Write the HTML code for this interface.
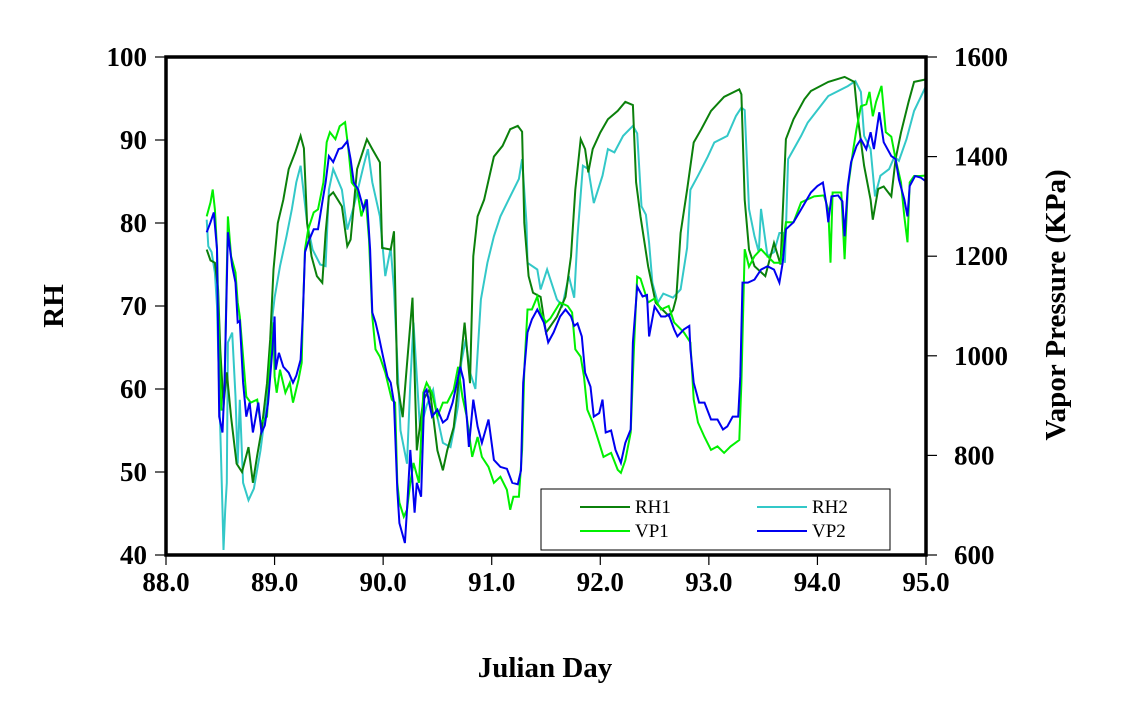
<!DOCTYPE html>
<html><head><meta charset="utf-8"><style>
html,body{margin:0;padding:0;background:#fff;}
svg{display:block;font-family:"Liberation Serif",serif;font-weight:bold;}
</style></head><body>
<svg id="chart" width="1127" height="718" viewBox="0 0 1127 718" xmlns="http://www.w3.org/2000/svg">
<rect width="1127" height="718" fill="#fff"/>
<g id="ticks"></g>
<g id="series"></g>
<rect x="166" y="57" width="760" height="498" fill="none" stroke="#000" stroke-width="3.5"/>
<text x="0" y="0" transform="translate(63,306) rotate(-90)" text-anchor="middle" font-size="29">RH</text>
<text x="0" y="0" transform="translate(1065,305) rotate(-90)" text-anchor="middle" font-size="29">Vapor Pressure (KPa)</text>
<text x="545" y="677" text-anchor="middle" font-size="29">Julian Day</text>
<g>
<rect x="541" y="489" width="349" height="61" fill="#fff" stroke="#000" stroke-width="1"/>
<line x1="580" y1="507" x2="630" y2="507" stroke="#0b800b" stroke-width="2"/>
<text x="635" y="513" font-size="19" font-weight="normal">RH1</text>
<line x1="757" y1="507" x2="807" y2="507" stroke="#33c8c8" stroke-width="2"/>
<text x="812" y="513" font-size="19" font-weight="normal">RH2</text>
<line x1="580" y1="531" x2="630" y2="531" stroke="#00f000" stroke-width="2"/>
<text x="635" y="537" font-size="19" font-weight="normal">VP1</text>
<line x1="757" y1="531" x2="807" y2="531" stroke="#0000f0" stroke-width="2"/>
<text x="812" y="537" font-size="19" font-weight="normal">VP2</text>
</g>
</svg>
<script>
const xTicks = [88,89,90,91,92,93,94,95];
const leftTicks = [40,50,60,70,80,90,100];
const rightTicks = [600,800,1000,1200,1400,1600];

const rh1Days = [88.375,88.41,88.45,88.48,88.5,88.53,88.56,88.6,88.65,88.7,88.76,88.8,88.84,88.88,88.93,88.96,88.99,89.03,89.08,89.13,89.19,89.24,89.27,89.3,89.34,89.39,89.44,89.47,89.5,89.54,89.62,89.67,89.7,89.76,89.85,89.9,89.97,89.99,90.07,90.1,90.13,90.18,90.22,90.27,90.31,90.37,90.43,90.5,90.55,90.59,90.65,90.71,90.75,90.8,90.83,90.87,90.93,91.02,91.1,91.17,91.24,91.28,91.3,91.34,91.38,91.45,91.5,91.6,91.68,91.73,91.77,91.82,91.86,91.89,91.93,92.0,92.07,92.16,92.23,92.3,92.33,92.37,92.44,92.51,92.63,92.67,92.7,92.74,92.8,92.86,92.93,93.02,93.14,93.28,93.3,93.33,93.37,93.42,93.52,93.6,93.66,93.71,93.78,93.88,93.94,94.1,94.25,94.34,94.37,94.43,94.49,94.51,94.56,94.61,94.68,94.72,94.77,94.84,94.89,95.0];
const rh1Values = [76.8,75.5,75.2,72,64.7,58,62,56.6,51,50,53,48.7,52,55,60.7,66,74.4,80,82.8,86.5,88.5,90.5,89,80,76,73.6,72.8,78.8,83.2,83.7,82,77.2,78,86.5,90.1,88.9,87.3,77,76.8,79,60.7,56.6,63,71,52.6,58.7,60,52.6,50.2,52.6,55.4,62.7,68,60.7,76,80.8,82.8,88,89.3,91.3,91.7,91,80,73.6,71.6,71.1,66.8,68.7,71.1,76,84,90.1,88.9,86.1,88.9,90.9,92.5,93.5,94.6,94.2,84.9,80.8,74.8,70.4,68.8,69.5,71,78.8,84,89.7,91.3,93.5,95.2,96.1,95.5,82.8,76.8,74.8,73.6,77.6,75,90.1,92.5,94.9,95.9,97,97.6,97,92.9,86.9,82.8,80.4,84.1,84.4,83.2,87.7,90.9,94.6,97,97.3];

const rh2Days = [88.375,88.39,88.42,88.45,88.47,88.5,88.52,88.53,88.545,88.56,88.57,88.61,88.64,88.66,88.68,88.71,88.76,88.81,88.87,88.93,88.98,89.0,89.05,89.11,89.16,89.2,89.24,89.3,89.35,89.42,89.47,89.5,89.54,89.62,89.67,89.73,89.82,89.86,89.9,89.97,90.02,90.07,90.1,90.16,90.22,90.25,90.28,90.34,90.4,90.46,90.5,90.55,90.62,90.65,90.69,90.72,90.76,90.8,90.85,90.9,90.96,91.02,91.08,91.17,91.25,91.28,91.32,91.33,91.42,91.45,91.51,91.6,91.65,91.71,91.76,91.79,91.84,91.89,91.94,92.02,92.07,92.13,92.21,92.3,92.34,92.38,92.42,92.45,92.48,92.53,92.58,92.67,92.74,92.8,92.83,92.9,92.99,93.05,93.17,93.25,93.3,93.33,93.37,93.42,93.46,93.48,93.54,93.6,93.65,93.68,93.7,93.73,93.85,93.91,94.1,94.28,94.35,94.4,94.43,94.49,94.53,94.58,94.66,94.71,94.75,94.82,94.89,95.0];
const rh2Values = [80.4,77.2,76.5,74,70,55,45.4,40.6,45.4,48.7,65.6,66.8,59.1,51,58.7,48.7,46.6,48,52.6,58.7,68.7,71,74.8,78.4,81.7,84.9,86.9,80,76.8,75,74.8,84,86.5,84,79.2,82,86.9,88.9,84.9,80.8,73.6,77,72,55,51,60.7,68,55,58,59.9,56.6,53.5,53,55,58,63.2,66,62,60,70.8,75.2,78.4,80.8,83.2,85.3,87.7,80,75.2,74.4,72,74.4,70.8,70,73.6,71,78.4,86.9,86.5,82.4,85.7,88.9,88.5,90.5,91.7,90.8,82,81,77.6,72.8,70.4,71.5,71,72,77,84,85.7,88,89.7,90.5,92.9,93.9,93.6,81.7,78.4,76.5,81.7,76,76.5,78.8,78.8,75.2,87.7,90.5,92.1,95.3,96.5,97.1,95.8,90.5,88.9,83.2,85.7,86.5,88,87.5,90.1,93.5,96.5,97.1];

const vp1Days = [88.375,88.41,88.43,88.45,88.47,88.49,88.51,88.53,88.54,88.57,88.6,88.64,88.66,88.68,88.71,88.74,88.78,88.84,88.87,88.93,88.96,88.99,89.0,89.02,89.05,89.1,89.14,89.17,89.22,89.25,89.26,89.28,89.31,89.36,89.4,89.45,89.48,89.51,89.56,89.6,89.65,89.68,89.71,89.76,89.8,89.84,89.87,89.9,89.93,89.97,90.02,90.08,90.11,90.13,90.15,90.19,90.22,90.25,90.28,90.33,90.37,90.4,90.45,90.5,90.55,90.59,90.65,90.69,90.73,90.77,90.82,90.87,90.91,90.97,91.02,91.08,91.14,91.17,91.2,91.25,91.28,91.3,91.33,91.37,91.42,91.45,91.5,91.54,91.63,91.7,91.74,91.77,91.82,91.85,91.88,91.93,91.99,92.03,92.1,92.16,92.19,92.23,92.28,92.31,92.34,92.37,92.44,92.5,92.56,92.63,92.68,92.77,92.83,92.86,92.9,92.96,93.02,93.08,93.14,93.2,93.28,93.3,93.33,93.37,93.42,93.48,93.54,93.6,93.66,93.71,93.78,93.85,93.97,94.06,94.1,94.12,94.14,94.22,94.25,94.28,94.33,94.36,94.4,94.45,94.48,94.51,94.54,94.59,94.63,94.68,94.72,94.77,94.8,94.83,94.85,94.89,94.95,95.0];
const vp1Values = [1280,1308,1334,1294,1214,1013,892,892,946,1280,1200,1167,1107,1079,998,918,906,912,866,878,998,1067,958,926,972,926,946,906,952,986,1079,1214,1254,1288,1294,1348,1429,1449,1435,1461,1469,1415,1348,1334,1280,1314,1234,1079,1013,998,966,912,906,745,705,677,691,745,785,745,926,946,926,878,906,906,932,978,918,878,797,837,797,777,745,757,731,691,717,717,811,972,1093,1093,1119,1087,1067,1075,1107,1100,1087,1013,998,958,892,866,825,797,805,771,765,790,846,1013,1159,1155,1107,1115,1093,1100,1067,1047,1027,912,866,837,811,818,805,818,831,946,1214,1179,1200,1214,1200,1187,1187,1268,1268,1308,1320,1322,1294,1187,1328,1328,1194,1335,1415,1455,1501,1505,1530,1481,1510,1542,1449,1440,1395,1348,1280,1228,1348,1361,1361,1362];

const vp2Days = [88.375,88.41,88.44,88.47,88.49,88.52,88.54,88.56,88.57,88.61,88.64,88.66,88.68,88.71,88.74,88.77,88.8,88.85,88.88,88.91,88.94,88.98,89.0,89.01,89.04,89.08,89.13,89.17,89.2,89.24,89.26,89.28,89.31,89.36,89.4,89.44,89.47,89.5,89.54,89.59,89.62,89.67,89.7,89.73,89.77,89.82,89.85,89.88,89.9,89.93,89.96,90.0,90.04,90.07,90.1,90.13,90.15,90.2,90.22,90.25,90.29,90.31,90.35,90.38,90.4,90.45,90.5,90.55,90.59,90.64,90.68,90.71,90.74,90.77,90.79,90.83,90.87,90.91,90.97,91.02,91.08,91.14,91.19,91.24,91.27,91.29,91.33,91.37,91.42,91.48,91.52,91.57,91.63,91.68,91.73,91.76,91.79,91.83,91.86,91.91,91.94,91.99,92.02,92.05,92.1,92.14,92.19,92.23,92.28,92.3,92.34,92.39,92.43,92.45,92.5,92.56,92.6,92.63,92.68,92.71,92.77,92.82,92.83,92.86,92.91,92.96,93.02,93.08,93.13,93.17,93.22,93.27,93.29,93.31,93.36,93.42,93.48,93.54,93.6,93.65,93.68,93.71,93.78,93.85,93.94,94.0,94.05,94.08,94.1,94.13,94.19,94.23,94.25,94.28,94.31,94.36,94.4,94.45,94.49,94.52,94.57,94.61,94.68,94.72,94.75,94.8,94.83,94.85,94.9,94.95,95.0];
const vp2Values = [1248,1268,1288,1214,878,846,946,1147,1248,1180,1147,1067,1070,946,878,906,846,906,846,860,906,1013,1079,972,1006,978,966,946,960,992,1079,1208,1228,1254,1254,1308,1348,1401,1389,1415,1417,1431,1395,1348,1334,1294,1314,1214,1087,1067,1039,998,958,946,906,731,664,624,691,811,685,745,717,926,932,878,892,866,873,906,946,978,952,878,817,912,858,825,872,791,777,773,745,742,770,946,1047,1073,1093,1067,1027,1047,1079,1093,1079,1060,1065,1039,966,938,878,885,912,846,850,811,785,825,852,1027,1139,1119,1122,1039,1099,1079,1079,1083,1053,1039,1053,1060,1013,946,906,906,872,872,852,858,878,878,958,1147,1147,1153,1173,1180,1173,1147,1187,1254,1268,1294,1328,1341,1348,1308,1268,1320,1322,1310,1240,1341,1389,1421,1435,1415,1449,1415,1489,1429,1401,1395,1354,1314,1280,1341,1361,1358,1350];

const X0 = 166, X1 = 926, Y0 = 555, Y1 = 57;
function xs(d){ return X0 + (d - 88) / (95 - 88) * (X1 - X0); }
function yL(v){ return Y0 - (v - 40) / (100 - 40) * (Y0 - Y1); }
function yR(v){ return Y0 - (v - 600) / (1600 - 600) * (Y0 - Y1); }

const NS = "http://www.w3.org/2000/svg";
const tg = document.getElementById("ticks");
const sg = document.getElementById("series");

function mk(tag, attrs, parent){
  const e = document.createElementNS(NS, tag);
  for (const k in attrs) e.setAttribute(k, attrs[k]);
  parent.appendChild(e);
  return e;
}

xTicks.forEach(function(t){
  const x = xs(t);
  const l = mk("line", {x1:x, y1:Y0, x2:x, y2:Y0+10, stroke:"#000", "stroke-width":1.2}, tg);
  
  
  const tx = mk("text", {x:x, y:591, "text-anchor":"middle", "font-size":27}, tg);
  tx.textContent = t.toFixed(1);
  
  
});
leftTicks.forEach(function(t){
  const y = yL(t);
  const l = mk("line", {x1:X0-11, y1:y, x2:X0, y2:y, stroke:"#000", "stroke-width":1.2}, tg);
  
  
  const tx = mk("text", {x:147, y:y+9, "text-anchor":"end", "font-size":27}, tg);
  tx.textContent = String(t);
  
  
});
rightTicks.forEach(function(t){
  const y = yR(t);
  const l = mk("line", {x1:X1, y1:y, x2:X1+11, y2:y, stroke:"#000", "stroke-width":1.2}, tg);
  
  
  const tx = mk("text", {x:954, y:y+9, "text-anchor":"start", "font-size":27}, tg);
  tx.textContent = String(t);
  
  
});

function draw(days, vals, yf, color, name){
  const pts = days.map(function(d, i){ return xs(d).toFixed(1) + "," + yf(vals[i]).toFixed(1); }).join(" ");
  const p = mk("polyline", {points:pts, fill:"none", stroke:color, "stroke-width":2, "stroke-linejoin":"miter"}, sg);
  
  
}
draw(rh2Days, rh2Values, yL, "#33c8c8", "rh2-line");
draw(rh1Days, rh1Values, yL, "#0b800b", "rh1-line");
draw(vp1Days, vp1Values, yR, "#00f000", "vp1-line");
draw(vp2Days, vp2Values, yR, "#0000f0", "vp2-line");
</script>
</body></html>
